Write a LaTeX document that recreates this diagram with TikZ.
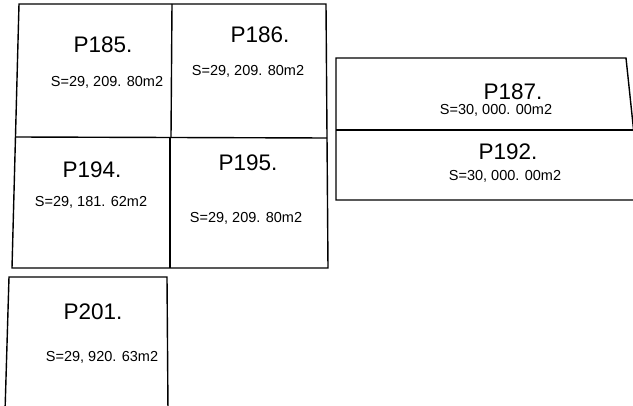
\documentclass[tikz,border=0pt]{standalone}
\usepackage{fontspec}
\setmainfont{Liberation Sans}
\begin{document}
\begin{tikzpicture}[x=1pt,y=-1pt,
  lot/.style={draw=black,line width=1.4pt,line join=miter},
  lotname/.style={font=\fontsize{22.5}{22.5}\selectfont,inner sep=0pt},
  lotarea/.style={font=\fontsize{14.5}{14.5}\selectfont,inner sep=0pt}]
\useasboundingbox (0,0) rectangle (633,406);
\clip (0,0) rectangle (633,406);
\fill[white] (0,0) rectangle (633,406);
% top-left block
\draw[lot] (19,4) -- (326,4) -- (328,268) -- (12,268) -- cycle;
\draw[lot] (15,137) -- (327,138);
\draw[lot] (172,4) -- (171,137);
\draw[lot] (170,138) -- (170,268);
% right block
\draw[lot] (640,200) -- (336,200) -- (336,58) -- (626,58) -- (633.7,131);
\draw[lot] (336,130) -- (640,130);
% bottom block
\draw[lot] (5,412) -- (9,277) -- (167,277) -- (168,412);
% labels
\node[lotname] (n185) at (103,45) {P185.};
\node[lotarea] (a185) at (107,82) {S=29, 209. 80m2};
\node[lotname] (n186) at (260,35) {P186.};
\node[lotarea] (a186) at (248,71) {S=29, 209. 80m2};
\node[lotname] (n194) at (92,170) {P194.};
\node[lotarea] (a194) at (91,202) {S=29, 181. 62m2};
\node[lotname] (n195) at (248,163) {P195.};
\node[lotarea] (a195) at (246,218) {S=29, 209. 80m2};
\node[lotname] (n187) at (513,92) {P187.};
\node[lotarea] (a187) at (496,110) {S=30, 000. 00m2};
\node[lotname] (n192) at (508,152) {P192.};
\node[lotarea] (a192) at (505,176) {S=30, 000. 00m2};
\node[lotname] (n201) at (93,312) {P201.};
\node[lotarea] (a201) at (102,357) {S=29, 920. 63m2};
\end{tikzpicture}
\end{document}
